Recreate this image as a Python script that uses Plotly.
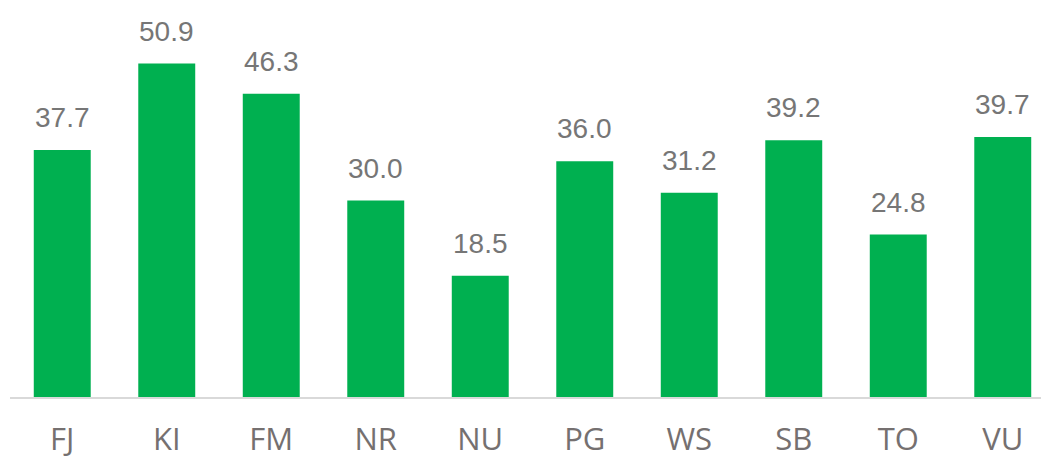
import plotly.graph_objects as go

categories = ["FJ", "KI", "FM", "NR", "NU", "PG", "WS", "SB", "TO", "VU"]
values = [37.7, 50.9, 46.3, 30.0, 18.5, 36.0, 31.2, 39.2, 24.8, 39.7]
value_labels = [f"{v:.1f}" for v in values]

bar_color = "#00B050"
value_color = "#767676"
cat_color = "#757070"

fig = go.Figure(go.Bar(
    x=list(range(len(categories))),
    y=values,
    marker=dict(color=bar_color, line=dict(width=0)),
    hoverinfo="skip",
))

for i, (v, t) in enumerate(zip(values, value_labels)):
    fig.add_annotation(
        x=i, y=v, text=t, showarrow=False,
        xanchor="center", yanchor="bottom", yshift=15,
        font=dict(family="Liberation Sans, Arial, sans-serif", size=28, color=value_color),
    )

fig.update_layout(
    width=1041, height=459,
    margin=dict(l=10, r=0, t=4, b=60),
    paper_bgcolor="white", plot_bgcolor="white",
    bargap=0.455,
    showlegend=False,
    xaxis=dict(
        range=[-0.5, 9.366],
        tickmode="array",
        tickvals=list(range(len(categories))),
        ticktext=categories,
        showgrid=False, zeroline=False,
        showline=True, linecolor="#D9D9D9", linewidth=2,
        ticks="outside", ticklen=14, tickcolor="rgba(0,0,0,0)",
        tickfont=dict(family="Open Sans, sans-serif", size=31, color=cat_color),
        fixedrange=True,
    ),
    yaxis=dict(
        range=[0, 60],
        showgrid=False, zeroline=False, showline=False,
        showticklabels=False, ticks="",
        fixedrange=True,
    ),
)

fig.write_html(
    "out.html",
    config={"displayModeBar": False},
    post_script="document.body.style.margin='0';document.body.style.overflow='hidden';",
)
